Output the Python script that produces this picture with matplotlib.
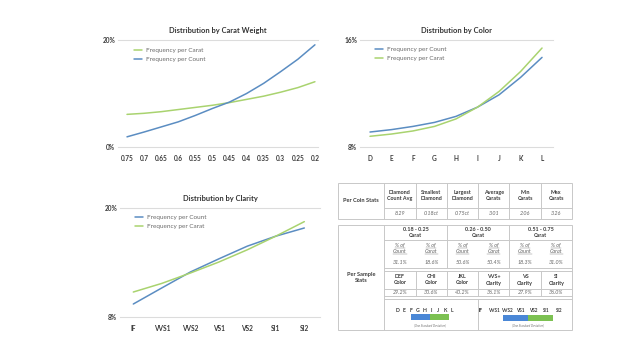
import matplotlib
matplotlib.use("Agg")
import matplotlib.pyplot as plt
from matplotlib.patches import Rectangle

plt.rcParams['font.family'] = ['Lato', 'DejaVu Sans']

# ---------------- data ----------------
carat_labels = ['0.75', '0.7', '0.65', '0.6', '0.55', '0.5', '0.45', '0.4', '0.35', '0.3', '0.25', '0.2']
carat_count = [1.9, 2.8, 3.75, 4.7, 5.9, 7.2, 8.4, 10.0, 11.9, 14.1, 16.4, 19.1]
carat_carat = [6.1, 6.3, 6.6, 7.0, 7.4, 7.8, 8.3, 8.9, 9.5, 10.25, 11.1, 12.2]

color_labels = ['D', 'E', 'F', 'G', 'H', 'I', 'J', 'K', 'L']
color_count = [9.12, 9.3, 9.54, 9.84, 10.29, 10.98, 11.9, 13.2, 14.7]
color_carat = [8.8, 8.97, 9.2, 9.54, 10.1, 10.98, 12.15, 13.64, 15.4]

clarity_labels = ['IF', 'VVS1', 'VVS2', 'VS1', 'VS2', 'SI1', 'SI2']
clarity_count = [9.43, 11.2, 12.95, 14.4, 15.8, 16.9, 17.8]
clarity_carat = [10.75, 11.7, 12.84, 14.05, 15.4, 16.9, 18.5]

coin_headers = ['Diamond\nCount Avg', 'Smallest\nDiamond', 'Largest\nDiamond', 'Average\nCarats', 'Min\nCarats', 'Max\nCarats']
coin_values = ['8.29', '0.18ct', '0.75ct', '3.01', '2.06', '3.26']

carat_groups = ['0.18 - 0.25\nCarat', '0.26 - 0.50\nCarat', '0.51 - 0.75\nCarat']
pct_count = ['31.1%', '50.6%', '18.3%']
pct_carat = ['18.6%', '50.4%', '31.0%']

grade_headers = ['DEF\nColor', 'GHI\nColor', 'JKL\nColor', 'VVS+\nClarity', 'VS\nClarity', 'SI\nClarity']
grade_values = ['29.2%', '30.6%', '40.2%', '36.1%', '27.9%', '36.0%']

scale_colors = ['D', 'E', 'F', 'G', 'H', 'I', 'J', 'K', 'L']
scale_clarity = ['IF', 'VVS1', 'VVS2', 'VS1', 'VS2', 'SI1', 'SI2']

# ---------------- style ----------------
BLUE = '#5b8dc2'
GREEN = '#a9d36f'
BAR_BLUE = '#4a87d6'
BAR_GREEN = '#7cc152'
GRID = '#dcdcdc'
TXT = '#3a3a3a'
W, H = 640, 360

fig = plt.figure(figsize=(6.4, 3.6), dpi=100)
fig.patch.set_facecolor('white')


def rect(l, t, r, b):
    return [l / W, 1 - b / H, (r - l) / W, (b - t) / H]


def line_chart(box, xlim, ylim, labels, s1, s2, order, title, title_y, leg_xy, xpad):
    ax = fig.add_axes(rect(*box))
    x = list(range(len(labels)))
    series = {'count': (s1, BLUE, 'Frequency per Count'),
              'carat': (s2, GREEN, 'Frequency per Carat')}
    handles = []
    for key in order:
        vals, col, lab = series[key]
        h, = ax.plot(x, vals, color=col, lw=1.1, label=lab, solid_capstyle='round')
        handles.append(h)
    ax.set_xlim(*xlim)
    ax.set_ylim(*ylim)
    for yv in ylim:
        ax.axhline(yv, color=GRID, lw=0.8, zorder=0, clip_on=False)
    for s in ax.spines.values():
        s.set_visible(False)
    ax.set_xticks(x)
    ax.set_xticklabels(labels, fontsize=4.7, fontweight='bold', color=TXT)
    ax.set_yticks(list(ylim))
    ax.set_yticklabels([f'{int(v)}%' for v in ylim], fontsize=4.7, fontweight='bold', color=TXT)
    ax.tick_params(axis='x', length=0, pad=xpad)
    ax.tick_params(axis='y', length=0, pad=2)
    ax.set_facecolor('none')
    cx = (box[0] + box[2]) / 2
    fig.text(cx / W, 1 - title_y / H, title, ha='center', va='center',
             fontsize=5.4, fontweight='bold', color='#333333')
    leg = ax.legend(handles=handles, loc='upper left',
                    bbox_to_anchor=(leg_xy[0] / W, 1 - leg_xy[1] / H),
                    bbox_transform=fig.transFigure, frameon=False,
                    fontsize=4.6, handlelength=1.3, handletextpad=0.6,
                    labelspacing=0.45, borderpad=0, borderaxespad=0)
    for t in leg.get_texts():
        t.set_color('#6a6a6a')
    return ax


line_chart((118, 40, 318, 147), (-0.527, 11.18), (0, 20), carat_labels,
           carat_count, carat_carat, ['carat', 'count'],
           'Distribution by Carat Weight', 31, (134, 48), 5.5)
line_chart((360, 40, 553, 147), (-0.465, 8.51), (8, 16), color_labels,
           color_count, color_carat, ['count', 'carat'],
           'Distribution by Color', 31, (375, 47), 6)
line_chart((120, 208, 320, 317), (-0.467, 6.55), (8, 20), clarity_labels,
           clarity_count, clarity_carat, ['count', 'carat'],
           'Distribution by Clarity', 198, (135, 215), 6)

# ---------------- tables ----------------
tx = fig.add_axes([0, 0, 1, 1])
tx.set_xlim(0, W)
tx.set_ylim(H, 0)
tx.axis('off')
tx.set_facecolor('none')

LC = '#c8c8c8'
LW = 0.7


def hl(y, x0, x1):
    tx.plot([x0, x1], [y, y], color=LC, lw=LW)


def vl(x, y0, y1):
    tx.plot([x, x], [y0, y1], color=LC, lw=LW)


def txt(x, y, s, size=3.9, weight='bold', style='normal', color=TXT):
    return tx.text(x, y, s, ha='center', va='center', fontsize=size,
                   fontweight=weight, fontstyle=style, color=color, linespacing=1.25)


L0, C1, R0 = 337.5, 384.3, 572
cols = [C1 + i * (R0 - C1) / 6 for i in range(7)]
cw = (R0 - C1) / 6

# top table
T0, T1, T2 = 183, 208, 218.7
tx.add_patch(Rectangle((L0, T0), R0 - L0, T2 - T0, fill=False, ec=LC, lw=LW))
vl(C1, T0, T2)
for c in cols[1:-1]:
    vl(c, T0, T2)
hl(T1, C1, R0)
txt((L0 + C1) / 2, (T0 + T2) / 2, 'Per Coin Stats', size=4.1)
for i, (h, v) in enumerate(zip(coin_headers, coin_values)):
    cx = cols[i] + cw / 2
    txt(cx, (T0 + T1) / 2, h)
    txt(cx, (T1 + T2) / 2, v, weight='normal', style='italic', color='#666666')

# lower table
B0, B1, B2, B3, B4, B5, B6, B7 = 224.7, 240.3, 268, 271.3, 288.7, 296, 299.3, 330
tx.add_patch(Rectangle((L0, B0), R0 - L0, B7 - B0, fill=False, ec=LC, lw=LW))
vl(C1, B0, B7)
for y in (B1, B2, B3, B4, B5, B6):
    hl(y, C1, R0)
for g in (2, 4):
    vl(cols[g], B0, B2)
for c in cols[1:-1]:
    vl(c, B3, B5)
split = cols[3]
vl(split, B6, B7)
txt((L0 + C1) / 2, 277.5, 'Per Sample\nStats', size=4.1)

for g, name in enumerate(carat_groups):
    gx = cols[2 * g] + cw
    txt(gx, (B0 + B1) / 2, name)

underline_texts = []
for g in range(3):
    for k, (lab, vals) in enumerate([('Count', pct_count), ('Carat', pct_carat)]):
        cx = cols[2 * g + k] + cw / 2
        t1 = txt(cx, 245.2, '% of', weight='normal', style='italic', color='#666666')
        t2 = txt(cx, 251.4, lab, weight='normal', style='italic', color='#666666')
        underline_texts += [t1, t2]
        txt(cx, 262.2, vals[g], weight='normal', style='italic', color='#666666')

for i, (h, v) in enumerate(zip(grade_headers, grade_values)):
    cx = cols[i] + cw / 2
    txt(cx, (B3 + B4) / 2, h)
    txt(cx, (B4 + B5) / 2, v, weight='normal', style='italic', color='#666666')

# color scale
c_left, c_right = 397.7, 452
n = len(scale_colors)
for i, s in enumerate(scale_colors):
    txt(c_left + i * (c_right - c_left) / (n - 1), 310.7, s, size=3.7)
tx.add_patch(Rectangle((411, 314), 18.5, 6.2, fc=BAR_BLUE, ec='none'))
tx.add_patch(Rectangle((430, 314), 18.5, 6.2, fc=BAR_GREEN, ec='none'))
txt(430, 325.5, '(One Standard Deviation)', size=2.2, weight='normal', style='italic', color='#777777')

# clarity scale
k_left, k_right = 481, 559
m = len(scale_clarity)
for i, s in enumerate(scale_clarity):
    txt(k_left + i * (k_right - k_left) / (m - 1), 310.7, s, size=3.3)
tx.add_patch(Rectangle((502.7, 315), 24.8, 6.2, fc=BAR_BLUE, ec='none'))
tx.add_patch(Rectangle((528, 315), 25, 6.2, fc=BAR_GREEN, ec='none'))
txt(528, 325.8, '(One Standard Deviation)', size=2.2, weight='normal', style='italic', color='#777777')

# underline "% of" / "Count" / "Carat"
fig.canvas.draw()
inv = tx.transData.inverted()
for t in underline_texts:
    bb = t.get_window_extent()
    (x0, y0), (x1, y1) = inv.transform([(bb.x0, bb.y0), (bb.x1, bb.y1)])
    tx.plot([x0, x1], [y0 - 0.2, y0 - 0.2], color='#888888', lw=0.35)

fig.savefig('out.png', dpi=100, facecolor='white')
